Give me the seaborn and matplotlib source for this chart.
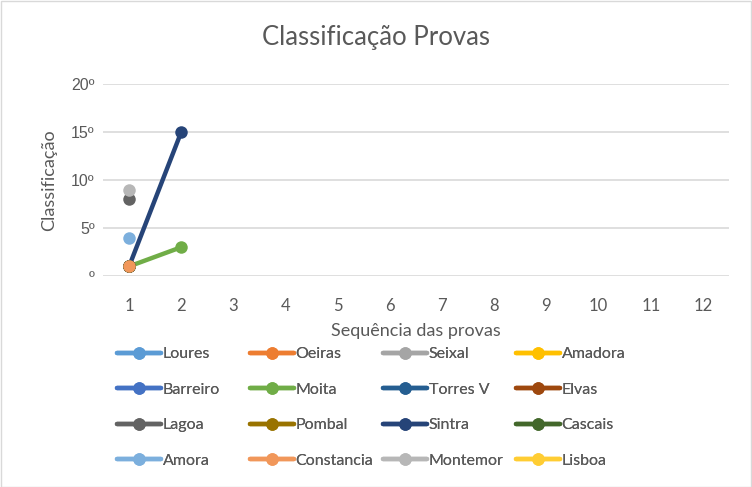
import matplotlib
matplotlib.use("Agg")
import matplotlib.pyplot as plt
import matplotlib.patches as mpatches
import seaborn as sns
import pandas as pd
import numpy as np

equipas = ["Loures", "Oeiras", "Seixal", "Amadora",
           "Barreiro", "Moita", "Torres V", "Elvas",
           "Lagoa", "Pombal", "Sintra", "Cascais",
           "Amora", "Constancia", "Montemor", "Lisboa"]
cores = ["#5B9BD5", "#ED7D31", "#A5A5A5", "#FFC000",
         "#4472C4", "#70AD47", "#255E91", "#9E480E",
         "#636363", "#997300", "#264478", "#43682B",
         "#7CAFDD", "#F1975A", "#B7B7B7", "#FFCD33"]
provas = [1, 2]
classificacoes = {
    "Loures": [1, None], "Oeiras": [1, None], "Seixal": [1, None], "Amadora": [1, None],
    "Barreiro": [1, None], "Moita": [1, 3], "Torres V": [1, None], "Elvas": [1, None],
    "Lagoa": [8, None], "Pombal": [1, None], "Sintra": [1, 15], "Cascais": [1, None],
    "Amora": [4, None], "Constancia": [1, None], "Montemor": [9, None], "Lisboa": [None, None],
}
x_ticks = list(range(1, 13))
y_ticks = [0, 5, 10, 15, 20]
y_labels = ["º", "5º", "10º", "15º", "20º"]

rows = []
for e in equipas:
    for p, v in zip(provas, classificacoes[e]):
        rows.append({"Prova": p, "Classificação": v, "Equipa": e})
df = pd.DataFrame(rows)
df["Classificação"] = df["Classificação"].astype(float)

sns.set_theme(style="white")
plt.rcParams["font.family"] = ["Lato", "DejaVu Sans"]
txt = "#595959"

W, H = 752, 487
fig = plt.figure(figsize=(W / 100, H / 100), dpi=100)
ax = fig.add_axes([103 / W, (H - 276) / H, (729 - 103) / W, (276 - 84) / H])

palette = dict(zip(equipas, cores))
for e in equipas:
    sub = df[df["Equipa"] == e]
    sns.lineplot(data=sub, x="Prova", y="Classificação", color=palette[e],
                 marker="o", markersize=9, markeredgewidth=0, linewidth=3.2,
                 ax=ax, label=e, legend=False)

ax.set_xlim(0.5, 12.5)
ax.set_ylim(0, 20)
ax.set_xticks(x_ticks)
ax.set_xticklabels([str(t) for t in x_ticks])
ax.set_yticks(y_ticks)
ax.set_yticklabels(y_labels)
ax.tick_params(axis="both", length=0, labelsize=12, colors=txt)
ax.tick_params(axis="x", pad=16)
ax.tick_params(axis="y", pad=6)
for lab in ax.get_yticklabels():
    lab.set_fontfamily(["Liberation Sans", "DejaVu Sans"])
    lab.set_fontsize(11.5)
ax.grid(axis="y", color="#D9D9D9", linewidth=1.2)
ax.set_axisbelow(True)
for s in ax.spines.values():
    s.set_visible(False)

ax.set_xlabel("Sequência das provas", fontsize=13, color=txt, labelpad=6)
ax.set_ylabel("Classificação", fontsize=13, color=txt, labelpad=10)
fig.text(0.5, (H - 37) / H, "Classificação Provas", ha="center", va="center",
         fontsize=18.5, color=txt)

handles, labels = ax.get_legend_handles_labels()
col_x = [106, 239, 372, 505]
for c in range(4):
    idx = [r * 4 + c for r in range(4)]
    leg = fig.legend([handles[i] for i in idx], [labels[i] for i in idx], ncol=1,
                     loc="upper left", bbox_to_anchor=(col_x[c] / W, (H - 336) / H),
                     frameon=False, fontsize=11.5, handlelength=2.75, handletextpad=0.1,
                     labelspacing=1.33, labelcolor=txt, borderpad=0.2)
    fig.add_artist(leg)

fig.patches.append(mpatches.Rectangle((0.001, 0.001), 0.998, 0.997, transform=fig.transFigure,
                                      fill=False, edgecolor="#D9D9D9", linewidth=1))
fig.savefig("out.png", dpi=100)
